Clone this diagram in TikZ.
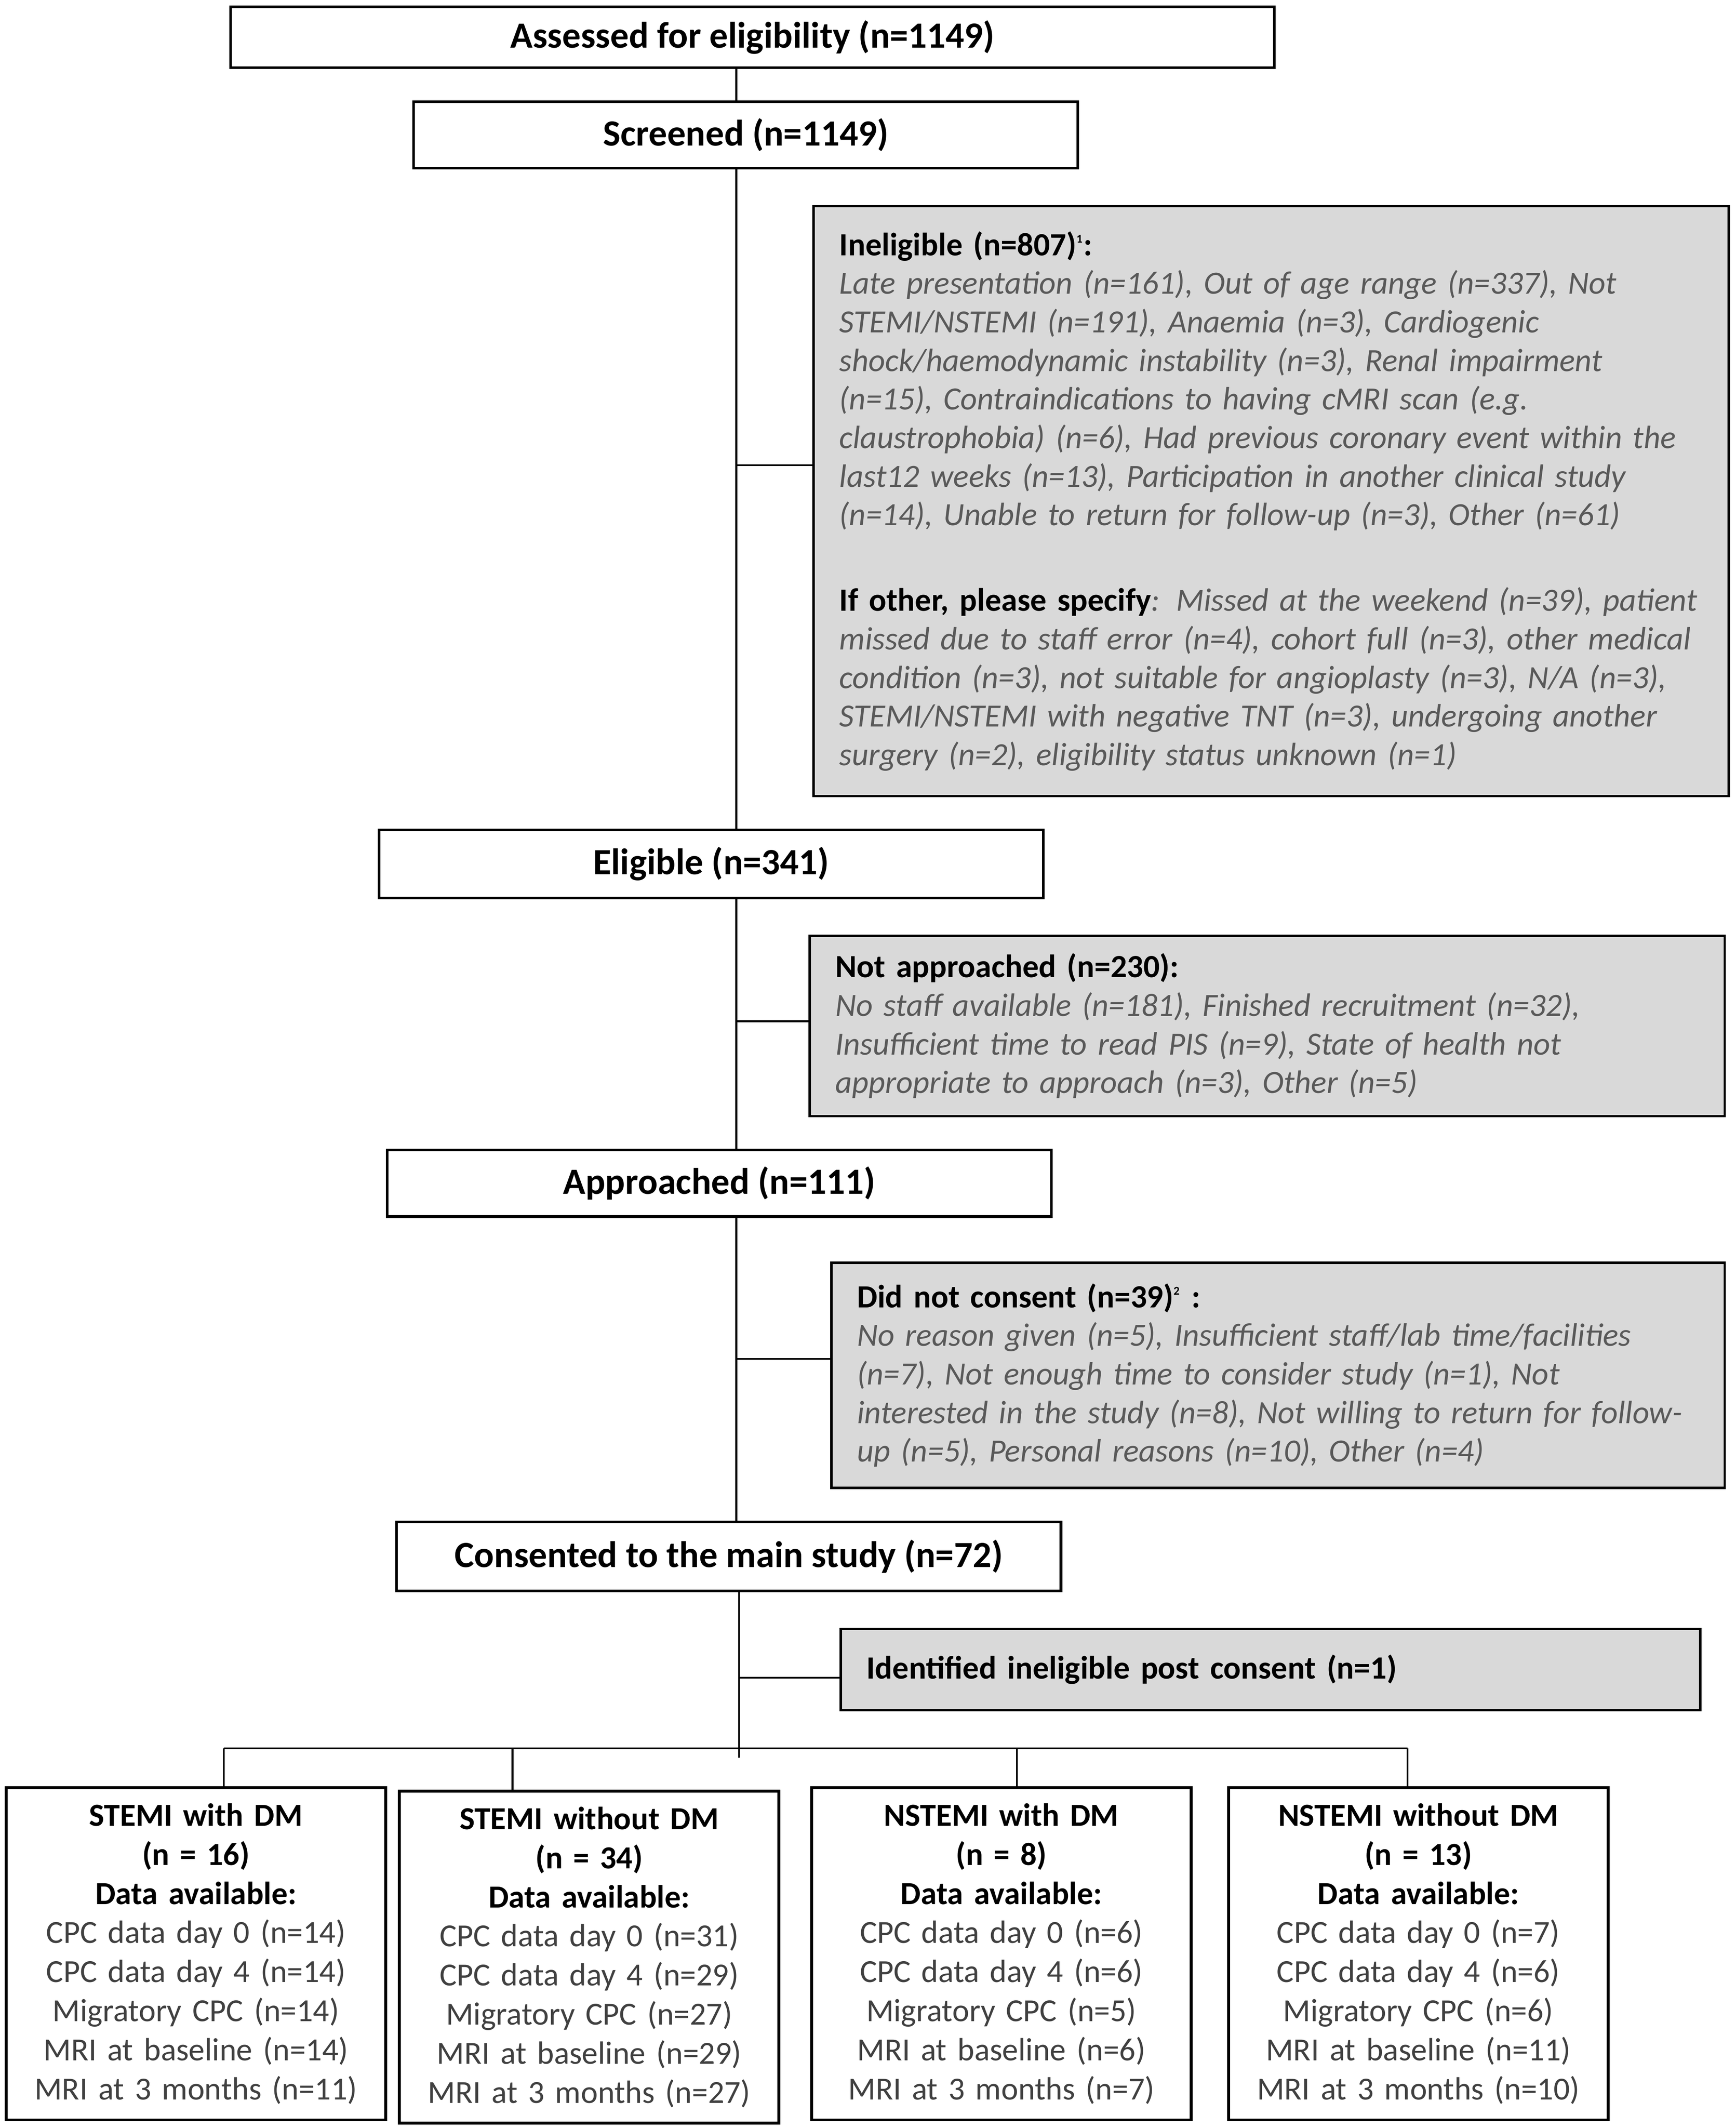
\documentclass[tikz,border=0pt]{standalone}
\usepackage{fontspec}
\setmainfont{Carlito}
\usetikzlibrary{positioning}

\definecolor{boxgrey}{RGB}{217,217,217}
\definecolor{notegrey}{RGB}{89,89,89}
\definecolor{datagrey}{RGB}{64,64,64}

\newcommand{\head}[1]{{\color{black}\upshape\bfseries #1}}

\tikzset{
  mainbox/.style={draw, line width=1.1pt, fill=white, minimum width=9.8cm, minimum height=1cm,
    align=center, font=\fontsize{15.5}{18}\selectfont\bfseries},
  greybox/.style={draw, line width=1pt, fill=boxgrey, inner xsep=0.38cm, align=left,
    text=notegrey, font=\fontsize{13.6}{16.2}\selectfont\itshape},
  groupbox/.style={draw, line width=1.2pt, minimum width=5.6cm, minimum height=4.9cm,
    text width=5.4cm, inner xsep=0.1cm, align=center, text=datagrey,
    font=\fontsize{13.5}{16.4}\selectfont},
  link/.style={line width=0.8pt},
}

\begin{document}
\begin{tikzpicture}[x=0.02cm, y=-0.02cm]
  \useasboundingbox (0,0) rectangle (1280,1569);

  % main flow
  \node[mainbox, minimum width=15.4cm, minimum height=0.9cm] (assessed) at (555,27.5) {Assessed for eligibility (n=1149)};
  \node[mainbox, minimum height=0.98cm] (screened) at (550,99.5) {Screened (n=1149)};
  \node[mainbox] (eligible) at (524.5,637) {Eligible (n=341)};
  \node[mainbox, minimum height=0.98cm] (approached) at (530.5,872.5) {Approached (n=111)};
  \node[mainbox, minimum height=1.02cm] (consented) at (537.5,1147.5) {Consented to the main study (n=72)};

  % exclusions
  \node[greybox, text width=12.74cm, minimum height=8.7cm] (inelig) at (937.5,369.5) {%
    \head{Ineligible (n=807)\textsuperscript{\tiny 1}:}\\
    Late presentation (n=161), Out of age range (n=337), Not\\
    STEMI/NSTEMI (n=191), Anaemia (n=3), Cardiogenic\\
    shock/haemodynamic instability (n=3), Renal impairment\\
    (n=15), Contraindications to having cMRI scan (e.g.\\
    claustrophobia) (n=6), Had previous coronary event within the\\
    last12 weeks (n=13), Participation in another clinical study\\
    (n=14), Unable to return for follow-up (n=3), Other (n=61)\\[0.69cm]
    \head{If other, please specify}: Missed at the weekend (n=39), patient\\
    missed due to staff error (n=4), cohort full (n=3), other medical\\
    condition (n=3), not suitable for angioplasty (n=3), N/A (n=3),\\
    STEMI/NSTEMI with negative TNT (n=3), undergoing another\\
    surgery (n=2), eligibility status unknown (n=1)};
  \node[greybox, text width=12.74cm, minimum height=2.66cm] (notappr) at (934.5,756.5) {%
    \head{Not approached (n=230):}\\
    No staff available (n=181), Finished recruitment (n=32),\\
    Insufficient time to read PIS (n=9), State of health not\\
    appropriate to approach (n=3), Other (n=5)};
  \node[greybox, text width=12.42cm, minimum height=3.32cm] (nocons) at (942.5,1014) {%
    \head{Did not consent (n=39)\textsuperscript{\tiny 2} :}\\
    No reason given (n=5), Insufficient staff/lab time/facilities\\
    (n=7), Not enough time to consider study (n=1), Not\\
    interested in the study (n=8), Not willing to return for follow-\\
    up (n=5), Personal reasons (n=10), Other (n=4)};
  \node[greybox, text width=11.92cm, minimum height=1.2cm] (postcons) at (937,1231) {%
    \head{Identified ineligible post consent (n=1)}};

  % groups
  \node[groupbox] (stemidm) at (144.5,1440.5) {%
    \head{STEMI with DM}\\ \head{(n = 16)}\\ \head{Data available:}\\
    CPC data day 0 (n=14)\\ CPC data day 4 (n=14)\\ Migratory CPC (n=14)\\
    MRI at baseline (n=14)\\ MRI at 3 months (n=11)};
  \node[groupbox] (stemi) at (434.5,1443) {%
    \head{STEMI without DM}\\ \head{(n = 34)}\\ \head{Data available:}\\
    CPC data day 0 (n=31)\\ CPC data day 4 (n=29)\\ Migratory CPC (n=27)\\
    MRI at baseline (n=29)\\ MRI at 3 months (n=27)};
  \node[groupbox] (nstemidm) at (738.5,1440.5) {%
    \head{NSTEMI with DM}\\ \head{(n = 8)}\\ \head{Data available:}\\
    CPC data day 0 (n=6)\\ CPC data day 4 (n=6)\\ Migratory CPC (n=5)\\
    MRI at baseline (n=6)\\ MRI at 3 months (n=7)};
  \node[groupbox] (nstemi) at (1046,1440.5) {%
    \head{NSTEMI without DM}\\ \head{(n = 13)}\\ \head{Data available:}\\
    CPC data day 0 (n=7)\\ CPC data day 4 (n=6)\\ Migratory CPC (n=6)\\
    MRI at baseline (n=11)\\ MRI at 3 months (n=10)};

  % spine
  \coordinate (spine) at (543,0);
  \draw[link] (assessed.south -| spine) -- (screened.north -| spine);
  \draw[link] (screened.south -| spine) -- (eligible.north -| spine);
  \draw[link] (eligible.south -| spine) -- (approached.north -| spine);
  \draw[link] (approached.south -| spine) -- (consented.north -| spine);

  % side branches
  \coordinate (j1) at (543,343);
  \coordinate (j2) at (543,753);
  \coordinate (j3) at (543,1002);
  \coordinate (j4) at (545,1237);
  \draw[link] (j1) -- (j1 -| inelig.west);
  \draw[link] (j2) -- (j2 -| notappr.west);
  \draw[link] (j3) -- (j3 -| nocons.west);
  \draw[link] (j4) -- (j4 -| postcons.west);

  % split into groups
  \coordinate (split) at (545,1296);
  \coordinate (barl) at (165,1289);
  \coordinate (barr) at (1038,1289);
  \draw[link] (consented.south -| split) -- (split);
  \draw[link] (barl) -- (barr);
  \foreach \x/\n in {165/stemidm, 378/stemi, 750/nstemidm, 1038/nstemi} {
    \coordinate (drop) at (\x,1289);
    \draw[link] (drop) -- (drop |- \n.north);
  }
\end{tikzpicture}
\end{document}
